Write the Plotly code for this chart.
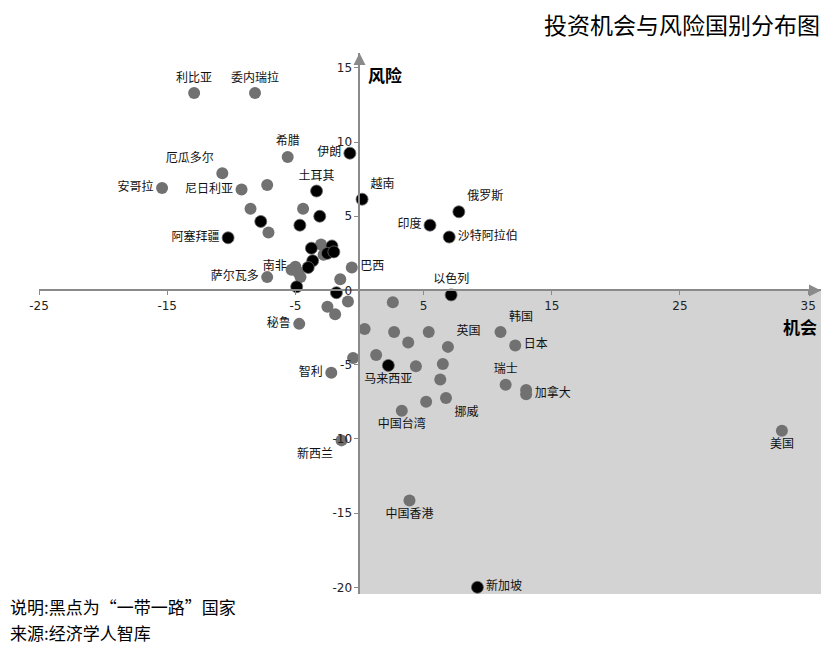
import plotly.graph_objects as go

# ---------------- data ----------------
# non-"Belt and Road" countries (grey dots)
gray_names = ["利比亚", "委内瑞拉", "希腊", "厄瓜多尔", "安哥拉", "尼日利亚", "", "", "", "",
              "", "", "南非", "", "", "", "萨尔瓦多", "巴西", "", "",
              "", "", "秘鲁", "智利", "新西兰", "", "", "", "", "",
              "英国", "韩国", "日本", "", "", "", "", "", "瑞士", "",
              "加拿大", "", "挪威", "中国台湾", "美国", "中国香港"]
gray_opportunity = [-12.9, -8.15, -5.6, -10.7, -15.4, -9.2, -7.2, -8.5, -4.4, -7.1,
                    -3.0, -2.8, -5.0, -5.3, -4.8, -4.6, -7.2, -0.6, -1.5, -0.9,
                    -2.5, -1.9, -4.7, -2.2, -1.4, 2.6, 0.4, 2.7, 5.4, 3.8,
                    6.9, 11.0, 12.15, 1.3, -0.5, 4.4, 6.5, 6.3, 11.4, 13.0,
                    13.0, 5.2, 6.75, 3.3, 32.95, 3.9]
gray_risk = [13.3, 13.3, 9.0, 7.9, 6.9, 6.8, 7.1, 5.5, 5.5, 3.9,
             3.1, 2.4, 1.6, 1.4, 1.25, 0.9, 0.9, 1.55, 0.75, -0.75,
             -1.1, -1.6, -2.25, -5.55, -10.1, -0.8, -2.6, -2.8, -2.8, -3.5,
             -3.8, -2.8, -3.7, -4.35, -4.55, -5.1, -4.95, -6.0, -6.35, -6.7,
             -7.0, -7.5, -7.25, -8.1, -9.45, -14.15]

# "Belt and Road" countries (black dots)
bri_names = ["伊朗", "土耳其", "越南", "", "", "", "阿塞拜疆", "俄罗斯", "印度", "沙特阿拉伯",
             "以色列", "", "", "", "", "", "", "", "", "马来西亚", "新加坡"]
bri_opportunity = [-0.75, -3.35, 0.2, -3.1, -7.7, -4.65, -10.25, 7.75, 5.5, 7.0,
                   7.15, -3.75, -2.15, -2.5, -2.0, -3.65, -4.0, -4.9, -1.8, 2.25, 9.2]
bri_risk = [9.25, 6.7, 6.15, 5.0, 4.65, 4.4, 3.55, 5.3, 4.4, 3.6,
            -0.3, 2.85, 3.0, 2.5, 2.6, 2.0, 1.55, 0.25, -0.15, -5.05, -20.0]

x_ticks = [-25, -15, -5, 5, 15, 25, 35]
y_ticks = [-20, -15, -10, -5, 0, 5, 10, 15]

title_text = "投资机会与风险国别分布图"
x_title = "机会"
y_title = "风险"
note_text = "说明:黑点为“一带一路”国家"
source_text = "来源:经济学人智库"

# ---------------- styling ----------------
X_RANGE = [-25, 36]
Y_RANGE = [-20.45, 16]
CJK = "Noto Sans CJK SC"
GRAY_DOT = "#717171"
SHADE = "#d3d3d3"
AXIS = "#8a8a8a"

label_pos = {
    "利比亚": "top center", "委内瑞拉": "top center", "希腊": "top center",
    "厄瓜多尔": "top left", "安哥拉": "middle left", "尼日利亚": "middle left",
    "南非": "middle left", "萨尔瓦多": "middle left", "巴西": "middle right",
    "秘鲁": "middle left", "智利": "middle left", "新西兰": "bottom left",
    "英国": "top right", "韩国": "top right", "日本": "middle right",
    "瑞士": "top center", "加拿大": "middle right", "挪威": "bottom right",
    "中国台湾": "bottom center", "美国": "bottom center", "中国香港": "bottom center",
    "伊朗": "middle left", "土耳其": "top center", "越南": "top right",
    "阿塞拜疆": "middle left", "俄罗斯": "top right", "印度": "middle left",
    "沙特阿拉伯": "middle right", "以色列": "top center", "马来西亚": "bottom center",
    "新加坡": "middle right",
}

def positions(names):
    return [label_pos.get(n, "middle center") for n in names]

fig = go.Figure()

fig.add_trace(go.Scatter(
    x=gray_opportunity, y=gray_risk, mode="markers+text",
    text=gray_names, textposition=positions(gray_names),
    textfont=dict(family=CJK, size=12, color="#111"),
    marker=dict(size=12, color=GRAY_DOT, line=dict(width=0)),
    hoverinfo="text", showlegend=False, cliponaxis=False,
))
fig.add_trace(go.Scatter(
    x=bri_opportunity, y=bri_risk, mode="markers+text",
    text=bri_names, textposition=positions(bri_names),
    textfont=dict(family=CJK, size=12, color="#111"),
    marker=dict(size=12, color="#000000", line=dict(width=0.8, color="#6a6a6a")),
    hoverinfo="text", showlegend=False, cliponaxis=False,
))

# shaded quadrant (high opportunity, low risk)
fig.add_shape(type="rect", xref="x", yref="y", x0=0, x1=X_RANGE[1],
              y0=Y_RANGE[0], y1=0, fillcolor=SHADE, line=dict(width=0), layer="below")

x_pos = (0 - Y_RANGE[0]) / (Y_RANGE[1] - Y_RANGE[0])
y_pos = (0 - X_RANGE[0]) / (X_RANGE[1] - X_RANGE[0])

fig.update_xaxes(range=X_RANGE, tickvals=x_ticks, ticktext=[str(v) for v in x_ticks],
                 anchor="free", position=x_pos, showgrid=False, zeroline=False,
                 showline=True, linecolor=AXIS, linewidth=2,
                 ticks="outside", ticklen=4, tickcolor=AXIS,
                 tickfont=dict(family="DejaVu Sans", size=12, color="#222"))
fig.update_yaxes(range=Y_RANGE, tickvals=y_ticks, ticktext=[str(v) for v in y_ticks],
                 anchor="free", position=y_pos, showgrid=False, zeroline=False,
                 showline=True, linecolor=AXIS, linewidth=2,
                 ticks="outside", ticklen=4, tickcolor=AXIS,
                 tickfont=dict(family="DejaVu Sans", size=12, color="#222"))

annotations = [
    # arrow heads
    dict(x=X_RANGE[1], y=0, ax=X_RANGE[1] - 0.6, ay=0, xref="x", yref="y",
         axref="x", ayref="y", text="", showarrow=True, arrowhead=2,
         arrowsize=1.2, arrowwidth=2, arrowcolor=AXIS),
    dict(x=0, y=Y_RANGE[1], ax=0, ay=Y_RANGE[1] - 0.6, xref="x", yref="y",
         axref="x", ayref="y", text="", showarrow=True, arrowhead=2,
         arrowsize=1.2, arrowwidth=2, arrowcolor=AXIS),
    # axis titles
    dict(x=0, y=14.55, xref="x", yref="y", xanchor="left", yanchor="middle",
         xshift=7, text="<b>" + y_title + "</b>", showarrow=False,
         font=dict(family=CJK, size=17, color="#000")),
    dict(x=1, y=-2.4, xref="paper", yref="y", xanchor="right", yanchor="middle",
         xshift=-2, text="<b>" + x_title + "</b>", showarrow=False,
         font=dict(family=CJK, size=17, color="#000")),
    # title
    dict(x=1, y=1.053, xref="paper", yref="paper", xanchor="right", yanchor="middle",
         xshift=1, text=title_text, showarrow=False,
         font=dict(family=CJK, size=23, color="#000")),
    # footer
    dict(x=-0.04, y=-0.024, xref="paper", yref="paper", xanchor="left", yanchor="middle",
         text=note_text, showarrow=False, font=dict(family=CJK, size=17, color="#000")),
    dict(x=-0.04, y=-0.072, xref="paper", yref="paper", xanchor="left", yanchor="middle",
         text=source_text, showarrow=False, font=dict(family=CJK, size=17, color="#000")),
]

# the page adds an 8px body margin, so the figure is sized to fit the window
fig.update_layout(
    width=831, height=639,
    margin=dict(l=31, r=18, t=45, b=53),
    paper_bgcolor="white", plot_bgcolor="white",
    annotations=annotations,
    showlegend=False,
)

fig.write_html("out.html")
